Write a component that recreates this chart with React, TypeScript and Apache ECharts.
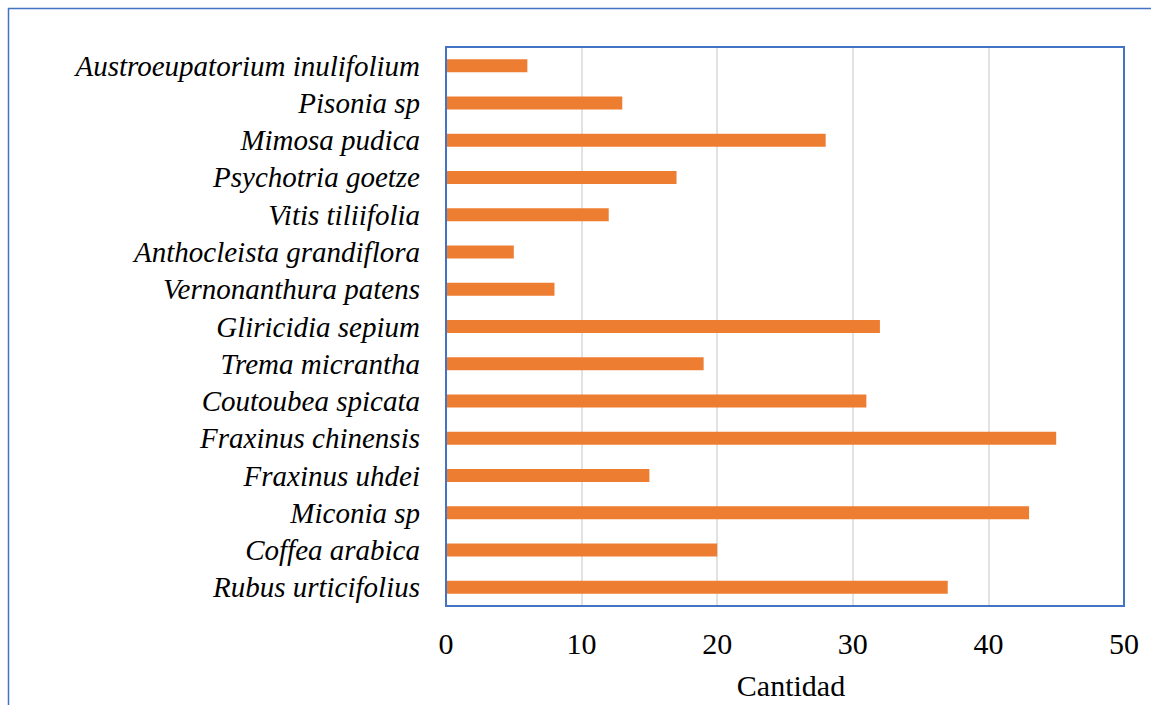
import React, { useEffect, useRef } from "react";
import * as echarts from "echarts";

// Species, listed top to bottom
const species = [
  "Austroeupatorium inulifolium",
  "Pisonia sp",
  "Mimosa pudica",
  "Psychotria goetze",
  "Vitis tiliifolia",
  "Anthocleista grandiflora",
  "Vernonanthura patens",
  "Gliricidia sepium",
  "Trema micrantha",
  "Coutoubea spicata",
  "Fraxinus chinensis",
  "Fraxinus uhdei",
  "Miconia sp",
  "Coffea arabica",
  "Rubus urticifolius",
];

// Count per species
const cantidad = [6, 13, 28, 17, 12, 5, 8, 32, 19, 31, 45, 15, 43, 20, 37];

const axisTitle = "Cantidad";

const FONT = "Liberation Serif, Times New Roman, serif";

export default function App() {
  const ref = useRef<HTMLDivElement>(null);

  useEffect(() => {
    if (!ref.current) return;
    const chart = echarts.init(ref.current, undefined, { renderer: "svg" });
    chart.setOption({
      animation: false,
      backgroundColor: "#ffffff",
      graphic: [
        {
          type: "rect",
          left: 6,
          top: 6,
          shape: { width: 1300, height: 900 },
          style: { fill: "none", stroke: "#4472C4", lineWidth: 1.5 },
          silent: true,
        },
      ],
      grid: {
        left: 446,
        right: 27,
        top: 47,
        bottom: 99,
        outerBoundsMode: "none",
        containLabel: false,
        show: true,
        borderColor: "#4472C4",
        borderWidth: 2,
        backgroundColor: "transparent",
        z: 3,
      },
      xAxis: {
        type: "value",
        min: 0,
        max: 50,
        interval: 10,
        name: axisTitle,
        nameLocation: "middle",
        nameGap: 64,
        nameTextStyle: {
          fontFamily: FONT,
          fontSize: 30,
          color: "#000",
          padding: [0, 0, 0, 12],
        },
        axisLine: { show: false },
        axisTick: { show: false },
        axisLabel: {
          fontFamily: FONT,
          fontSize: 30,
          color: "#000",
          margin: 22,
        },
        splitLine: { lineStyle: { color: "#d9d9d9", width: 1.5 } },
      },
      yAxis: {
        type: "category",
        data: species,
        inverse: true,
        axisLine: { show: false },
        axisTick: { show: false },
        axisLabel: {
          interval: 0,
          fontFamily: FONT,
          fontSize: 29,
          fontStyle: "italic",
          color: "#000",
          margin: 26,
        },
      },
      series: [
        {
          type: "bar",
          data: cantidad,
          barWidth: 13,
          itemStyle: { color: "#ED7D31" },
        },
      ],
    });
    return () => chart.dispose();
  }, []);

  return (
    <div
      ref={ref}
      style={{ position: "fixed", left: 0, top: 0, width: 1151, height: 705 }}
    />
  );
}
